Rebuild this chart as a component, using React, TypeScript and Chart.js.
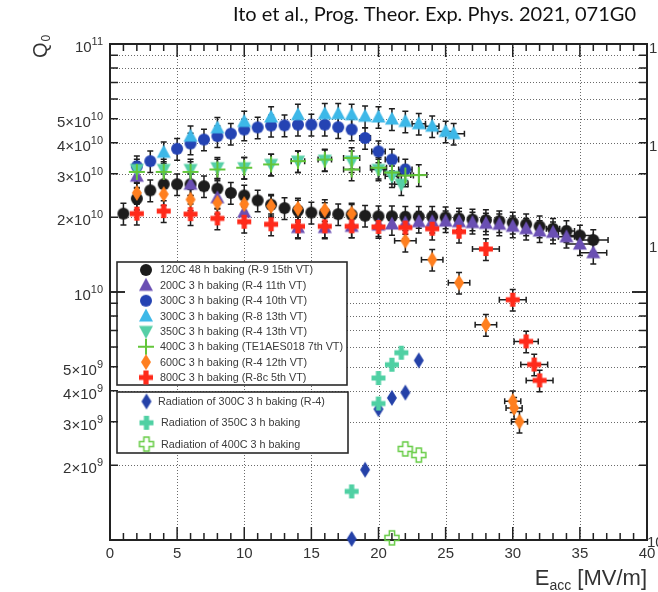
import { useEffect, useRef } from 'react';
import { Chart, registerables } from 'chart.js';
Chart.register(...registerables);

// ---------------- data ----------------
const E_120C = [1,2,3,4,5,6,7,8,9,10,11,12,13,14,15,16,17,18,19,20,21,22,23,24,25,26,27,28,29,30,31,32,33,34,35,36];
const Q_120C = [2.07e10,2.38e10,2.57e10,2.72e10,2.72e10,2.72e10,2.67e10,2.61e10,2.51e10,2.45e10,2.34e10,2.25e10,2.18e10,2.13e10,2.09e10,2.08e10,2.06e10,2.05e10,2.03e10,2.02e10,2.02e10,2.01e10,2.01e10,2.01e10,2.0e10,1.98e10,1.96e10,1.95e10,1.93e10,1.905e10,1.875e10,1.84e10,1.8e10,1.76e10,1.69e10,1.62e10];
const XE_120C = [0,0,0,0,0,0,0,0,0,0,0,0,0,0,0,0,0,0,0,0,0,0,0,0,0,0,0,0,0,0,0,0,0.5,0.6,1.0,1.1];

const E_200C = [2,6,8,10,14,16,18,20,21,22,23,24,25,26,27,28,29,30,31,32,33,34,35,36];
const Q_200C = [2.93e10,2.72e10,2.4e10,2.1e10,1.82e10,1.82e10,1.84e10,1.86e10,1.88e10,1.9e10,1.92e10,1.92e10,1.93e10,1.92e10,1.905e10,1.89e10,1.875e10,1.84e10,1.8e10,1.76e10,1.74e10,1.67e10,1.56e10,1.44e10];
const XE_200C = [0,0,0,0,0,0,0,0,0,0,0,0,0,0,0,0,0,0,0,0,0,0.6,1.0,1.0];

const E_300C_R4 = [2,3,5,6,7,8,9,10,11,12,13,14,15,16,17,18,19,20,21,22];
const Q_300C_R4 = [3.21e10,3.37e10,3.78e10,3.97e10,4.12e10,4.25e10,4.35e10,4.52e10,4.61e10,4.69e10,4.7e10,4.73e10,4.73e10,4.73e10,4.62e10,4.52e10,4.18e10,3.69e10,3.42e10,3.12e10];
const XE_300C_R4 = [0,0,0,0,0,0,0,0,0,0,0,0,0,0,0,0,0.4,0.5,0.5,0.5];

const E_300C_R8 = [4,6,8,10,12,14,16,17,18,19,20,21,22,23,24,25,25.6];
const Q_300C_R8 = [3.66e10,4.25e10,4.59e10,4.87e10,5.08e10,5.19e10,5.23e10,5.23e10,5.19e10,5.11e10,5.08e10,4.98e10,4.87e10,4.77e10,4.66e10,4.44e10,4.35e10];
const XE_300C_R8 = [0,0,0,0,0,0,0,0,0,0,0,0,0,0.5,0.5,0.6,0.8];

const E_350C = [2,4,6,8,10,12,14,16,18,20,21,21.7];
const Q_350C = [3.12e10,3.12e10,3.12e10,3.17e10,3.17e10,3.27e10,3.37e10,3.4e10,3.37e10,3.12e10,2.93e10,2.72e10];
const XE_350C = [0,0,0,0,0,0,0,0,0,0.5,0.5,0.5];

const E_400C = [2,4,6,8,10,12,14,16,18,18,20,21,22,23];
const Q_400C = [3.05e10,3.05e10,3.05e10,3.12e10,3.17e10,3.27e10,3.37e10,3.42e10,3.47e10,3.12e10,3.17e10,3.03e10,2.95e10,2.96e10];
const XE_400C = [0,0,0,0,0,0,0.5,0.5,0.6,0.6,0.6,0.6,0.6,0.6];

const E_600C = [2,4,6,8,10,12,14,16,18,22,24,26,28,30,30.1,30.5];
const Q_600C = [2.51e10,2.48e10,2.36e10,2.29e10,2.26e10,2.22e10,2.17e10,2.14e10,2.07e10,1.61e10,1.35e10,1.09e10,7.37e9,3.63e9,3.41e9,3.0e9];
const XE_600C = [0,0,0,0,0,0,0,0,0,0.8,0.8,0.8,0.8,0.6,0.6,0.6];

const E_800C = [2,4,6,8,10,12,14,16,18,20,22,24,26,28,30,31,31.6,32];
const Q_800C = [2.07e10,2.12e10,2.06e10,1.98e10,1.92e10,1.875e10,1.84e10,1.84e10,1.84e10,1.83e10,1.82e10,1.8e10,1.75e10,1.49e10,9.31e9,6.32e9,5.1e9,4.4e9];
const XE_800C = [0,0,0,0,0,0,0,0,0,0,0,0,0,1.0,1.0,0.9,1.0,1.0];

const E_RAD300 = [18,19,20,21,22,23];
const Q_RAD300 = [1.01e9,1.92e9,3.37e9,3.74e9,3.93e9,5.3e9];
const E_RAD350 = [18,20,20,21,21.7];
const Q_RAD350 = [1.57e9,3.55e9,4.5e9,5.09e9,5.69e9];
const E_RAD400 = [21,22,23];
const Q_RAD400 = [1.02e9,2.33e9,2.2e9];

const LEGEND_MAIN = [
  '120C 48 h baking (R-9 15th VT)',
  '200C 3 h baking (R-4 11th VT)',
  '300C 3 h baking (R-4 10th VT)',
  '300C 3 h baking (R-8 13th VT)',
  '350C 3 h baking (R-4 13th VT)',
  '400C 3 h baking (TE1AES018 7th VT)',
  '600C 3 h baking (R-4 12th VT)',
  '800C 3 h baking (R-8c 5th VT)',
];
const LEGEND_RAD = [
  'Radiation of 300C 3 h baking (R-4)',
  'Radiation of 350C 3 h baking',
  'Radiation of 400C 3 h baking',
];

const X_TICK_LABELS = ['0','5','10','15','20','25','30','35','40'];
const X_TICK_VALUES = [0,5,10,15,20,25,30,35,40];
const Y_TICK_VALUES = [2e9,3e9,4e9,5e9,1e10,2e10,3e10,4e10,5e10,1e11];
const Y_TICK_MANT = ['2','3','4','5','','2','3','4','5',''];
const Y_TICK_EXP = ['9','9','9','9','10','10','10','10','10','11'];
const Y_GRID = [2e9,3e9,4e9,5e9,6e9,7e9,8e9,9e9,1e10,2e10,3e10,4e10,5e10,6e10,7e10,8e10,9e10];
const X_GRID = [5,10,15,20,25,30,35];

const CITATION = 'Ito et al., Prog. Theor. Exp. Phys. 2021, 071G0';

// ---------------- markers ----------------
function makeMarker(kind: string, color: string): HTMLCanvasElement {
  const c = document.createElement('canvas');
  const s = 22;
  c.width = s; c.height = s;
  const ctx = c.getContext('2d')!;
  const cx = s / 2, cy = s / 2;
  ctx.fillStyle = color; ctx.strokeStyle = color;
  ctx.beginPath();
  if (kind === 'circle') {
    ctx.arc(cx, cy, 6, 0, Math.PI * 2); ctx.fill();
  } else if (kind === 'triangle') {
    ctx.moveTo(cx, cy - 7.5); ctx.lineTo(cx + 7, cy + 5.5); ctx.lineTo(cx - 7, cy + 5.5); ctx.closePath(); ctx.fill();
  } else if (kind === 'itriangle') {
    ctx.moveTo(cx, cy + 7.5); ctx.lineTo(cx + 7, cy - 5.5); ctx.lineTo(cx - 7, cy - 5.5); ctx.closePath(); ctx.fill();
  } else if (kind === 'diamond') {
    ctx.moveTo(cx, cy - 8); ctx.lineTo(cx + 5, cy); ctx.lineTo(cx, cy + 8); ctx.lineTo(cx - 5, cy); ctx.closePath(); ctx.fill();
  } else if (kind === 'plus') {
    ctx.lineWidth = 2;
    ctx.moveTo(cx - 8, cy); ctx.lineTo(cx + 8, cy); ctx.moveTo(cx, cy - 8); ctx.lineTo(cx, cy + 8); ctx.stroke();
  } else if (kind === 'cross' || kind === 'opencross') {
    const a = 2.6, L = 7;
    const pts = [[-a,-L],[a,-L],[a,-a],[L,-a],[L,a],[a,a],[a,L],[-a,L],[-a,a],[-L,a],[-L,-a],[-a,-a]];
    pts.forEach((p, i) => (i === 0 ? ctx.moveTo(cx + p[0], cy + p[1]) : ctx.lineTo(cx + p[0], cy + p[1])));
    ctx.closePath();
    if (kind === 'cross') ctx.fill(); else { ctx.lineWidth = 1.5; ctx.stroke(); }
  }
  return c;
}

type Series = { label: string; E: number[]; Q: number[]; xe: number[] | null; yerr: number; kind: string; color: string; };

const SERIES: Series[] = [
  { label: LEGEND_MAIN[0], E: E_120C, Q: Q_120C, xe: XE_120C, yerr: 0.1, kind: 'circle', color: '#1c1c1c' },
  { label: LEGEND_MAIN[1], E: E_200C, Q: Q_200C, xe: XE_200C, yerr: 0.1, kind: 'triangle', color: '#6a4fb3' },
  { label: LEGEND_MAIN[2], E: E_300C_R4, Q: Q_300C_R4, xe: XE_300C_R4, yerr: 0.1, kind: 'circle', color: '#2443b3' },
  { label: LEGEND_MAIN[3], E: E_300C_R8, Q: Q_300C_R8, xe: XE_300C_R8, yerr: 0.1, kind: 'triangle', color: '#3db8e8' },
  { label: LEGEND_MAIN[4], E: E_350C, Q: Q_350C, xe: XE_350C, yerr: 0.1, kind: 'itriangle', color: '#55cfa6' },
  { label: LEGEND_MAIN[5], E: E_400C, Q: Q_400C, xe: XE_400C, yerr: 0.1, kind: 'plus', color: '#63c63a' },
  { label: LEGEND_MAIN[6], E: E_600C, Q: Q_600C, xe: XE_600C, yerr: 0.1, kind: 'diamond', color: '#ff7f1f' },
  { label: LEGEND_MAIN[7], E: E_800C, Q: Q_800C, xe: XE_800C, yerr: 0.1, kind: 'cross', color: '#ff2a1a' },
  { label: LEGEND_RAD[0], E: E_RAD300, Q: Q_RAD300, xe: null, yerr: 0, kind: 'diamond', color: '#2441a8' },
  { label: LEGEND_RAD[1], E: E_RAD350, Q: Q_RAD350, xe: null, yerr: 0, kind: 'cross', color: '#4fd0a3' },
  { label: LEGEND_RAD[2], E: E_RAD400, Q: Q_RAD400, xe: null, yerr: 0, kind: 'opencross', color: '#66cc44' },
];

const FONT = '"Liberation Sans", Arial, sans-serif';

export default function App() {
  const ref = useRef<HTMLCanvasElement | null>(null);
  useEffect(() => {
    const canvas = ref.current!;
    const markers = SERIES.map(s => makeMarker(s.kind, s.color));

    const deco = {
      id: 'deco',
      beforeDatasetsDraw(chart: any) {
        const ctx = chart.ctx as CanvasRenderingContext2D;
        const a = chart.chartArea;
        const xs = chart.scales.x, ys = chart.scales.y;
        ctx.save();
        // grid
        ctx.strokeStyle = '#6a6a6a'; ctx.lineWidth = 1; ctx.setLineDash([1, 2]);
        X_GRID.forEach(v => {
          const x = Math.round(xs.getPixelForValue(v)) + 0.5;
          ctx.beginPath(); ctx.moveTo(x, a.top); ctx.lineTo(x, a.bottom); ctx.stroke();
        });
        Y_GRID.forEach(v => {
          const y = Math.round(ys.getPixelForValue(v)) + 0.5;
          ctx.beginPath(); ctx.moveTo(a.left, y); ctx.lineTo(a.right, y); ctx.stroke();
        });
        ctx.setLineDash([]);

        // legends
        const drawBox = (x0: number, y0: number, x1: number, y1: number) => {
          ctx.fillStyle = '#ffffff'; ctx.fillRect(x0, y0, x1 - x0, y1 - y0);
          ctx.strokeStyle = '#2a2a2a'; ctx.lineWidth = 1.6; ctx.strokeRect(x0, y0, x1 - x0, y1 - y0);
        };
        ctx.textBaseline = 'middle'; ctx.textAlign = 'left';
        ctx.font = `10.8px ${FONT}`;
        drawBox(117, 262, 347, 385);
        for (let i = 0; i < 8; i++) {
          const y = 270 + i * 15.35;
          const m = markers[i];
          ctx.drawImage(m, 146 - m.width / 2, y - m.height / 2);
          ctx.fillStyle = '#3a3a3a';
          ctx.fillText(LEGEND_MAIN[i], 160, y + 0.5);
        }
        drawBox(117, 392, 348, 453);
        for (let i = 0; i < 3; i++) {
          const y = 401.5 + i * 21.3;
          const m = markers[8 + i];
          ctx.drawImage(m, 146.5 - m.width / 2, y - m.height / 2);
          ctx.fillStyle = '#3a3a3a';
          ctx.fillText(LEGEND_RAD[i], i === 0 ? 158 : 161, y + 0.5);
        }

        // frame
        ctx.strokeStyle = '#222'; ctx.lineWidth = 2;
        ctx.strokeRect(a.left, a.top, a.right - a.left, a.bottom - a.top);
        // ticks
        ctx.lineWidth = 1.5;
        for (let v = 0; v <= 40; v++) {
          const x = xs.getPixelForValue(v);
          const len = v % 5 === 0 ? 13 : 7;
          ctx.beginPath();
          ctx.moveTo(x, a.bottom); ctx.lineTo(x, a.bottom - len);
          ctx.moveTo(x, a.top); ctx.lineTo(x, a.top + len);
          ctx.stroke();
        }
        [1e9, 1e10].forEach(dec => {
          for (let m = 1; m <= 10; m++) {
            const v = dec * m;
            if (v > 1e11) continue;
            const y = ys.getPixelForValue(v);
            const len = (m === 1 || m === 10) ? 15 : 8;
            ctx.beginPath();
            ctx.moveTo(a.left, y); ctx.lineTo(a.left + len, y);
            ctx.moveTo(a.right, y); ctx.lineTo(a.right - len, y);
            ctx.stroke();
          }
        });

        // tick labels
        ctx.fillStyle = '#333';
        ctx.font = `15px ${FONT}`;
        ctx.textAlign = 'center'; ctx.textBaseline = 'alphabetic';
        X_TICK_VALUES.forEach((v, i) => {
          ctx.fillText(X_TICK_LABELS[i], xs.getPixelForValue(v), 558);
        });
        Y_TICK_VALUES.forEach((v, i) => {
          const y = ys.getPixelForValue(v);
          const main = Y_TICK_MANT[i] ? `${Y_TICK_MANT[i]}\u00d710` : '10';
          ctx.font = `11px ${FONT}`;
          const we = ctx.measureText(Y_TICK_EXP[i]).width;
          ctx.font = `15px ${FONT}`;
          const wm = ctx.measureText(main).width;
          const right = 103;
          ctx.textAlign = 'left'; ctx.textBaseline = 'alphabetic';
          ctx.fillText(main, right - we - wm, y + 8);
          ctx.font = `11px ${FONT}`;
          ctx.fillText(Y_TICK_EXP[i], right - we, y + 1);
        });

        // axis titles
        ctx.fillStyle = '#333';
        ctx.save();
        ctx.translate(47, 58);
        ctx.rotate(-Math.PI / 2);
        ctx.font = `20px ${FONT}`;
        ctx.textAlign = 'left';
        ctx.fillText('Q', 0, 0);
        const wq = ctx.measureText('Q').width;
        ctx.font = `12px ${FONT}`;
        ctx.fillText('0', wq + 1, 3);
        ctx.restore();

        ctx.textAlign = 'left';
        ctx.font = `22px ${FONT}`;
        const wE = ctx.measureText('E').width;
        const wB = ctx.measureText(' [MV/m]').width;
        ctx.font = `14px ${FONT}`;
        const wA = ctx.measureText('acc').width;
        const x0 = 647 - wE - wA - wB;
        ctx.font = `22px ${FONT}`;
        ctx.fillText('E', x0, 585);
        ctx.font = `14px ${FONT}`;
        ctx.fillText('acc', x0 + wE, 590);
        ctx.font = `22px ${FONT}`;
        ctx.fillText(' [MV/m]', x0 + wE + wA, 585);

        // stray labels of the neighbouring panel
        ctx.font = `15px ${FONT}`;
        ctx.fillText('1', 649, 53);
        ctx.fillText('1', 649, 151);
        ctx.fillText('1', 649, 252);
        ctx.fillText('10', 647, 547);

        // citation
        ctx.fillStyle = '#111';
        ctx.font = `20px Lato, "Open Sans", ${FONT}`;
        ctx.textAlign = 'right';
        ctx.fillText(CITATION, 636, 21, 410);

        // error bars
        ctx.strokeStyle = '#1e1e1e'; ctx.lineWidth = 1.5;
        SERIES.forEach(s => {
          if (!s.yerr) return;
          s.E.forEach((e, j) => {
            const q = s.Q[j];
            const x = xs.getPixelForValue(e);
            const y = ys.getPixelForValue(q);
            const yt = ys.getPixelForValue(q * (1 + s.yerr));
            const yb = ys.getPixelForValue(q * (1 - s.yerr));
            ctx.beginPath();
            ctx.moveTo(x, yt); ctx.lineTo(x, yb);
            ctx.moveTo(x - 3, yt); ctx.lineTo(x + 3, yt);
            ctx.moveTo(x - 3, yb); ctx.lineTo(x + 3, yb);
            const dx = s.xe ? s.xe[j] : 0;
            if (dx > 0) {
              const xl = xs.getPixelForValue(e - dx), xr = xs.getPixelForValue(e + dx);
              ctx.moveTo(xl, y); ctx.lineTo(xr, y);
              ctx.moveTo(xl, y - 3); ctx.lineTo(xl, y + 3);
              ctx.moveTo(xr, y - 3); ctx.lineTo(xr, y + 3);
            }
            ctx.stroke();
          });
        });
        ctx.restore();
      },
    };

    const chart = new Chart(canvas, {
      type: 'scatter',
      data: {
        datasets: SERIES.map((s, i) => ({
          label: s.label,
          data: s.E.map((e, j) => ({ x: e, y: s.Q[j] })),
          pointStyle: markers[i] as any,
          pointRadius: 7,
          pointHoverRadius: 7,
          showLine: false,
          order: -i,
          clip: false as any,
        })),
      },
      options: {
        animation: false,
        responsive: false,
        devicePixelRatio: 1,
        events: [],
        layout: { padding: { left: 110, right: 11, top: 44, bottom: 52 } },
        scales: {
          x: { type: 'linear', min: 0, max: 40, display: false },
          y: { type: 'logarithmic', min: 1e9, max: 1e11, display: false },
        },
        plugins: { legend: { display: false }, tooltip: { enabled: false } },
      },
      plugins: [deco],
    });
    return () => chart.destroy();
  }, []);

  return (
    <div style={{ position: 'absolute', left: 0, top: 0, width: 658, height: 592, background: '#fff' }}>
      <canvas ref={ref} width={658} height={592} style={{ width: 658, height: 592, display: 'block' }} />
    </div>
  );
}
